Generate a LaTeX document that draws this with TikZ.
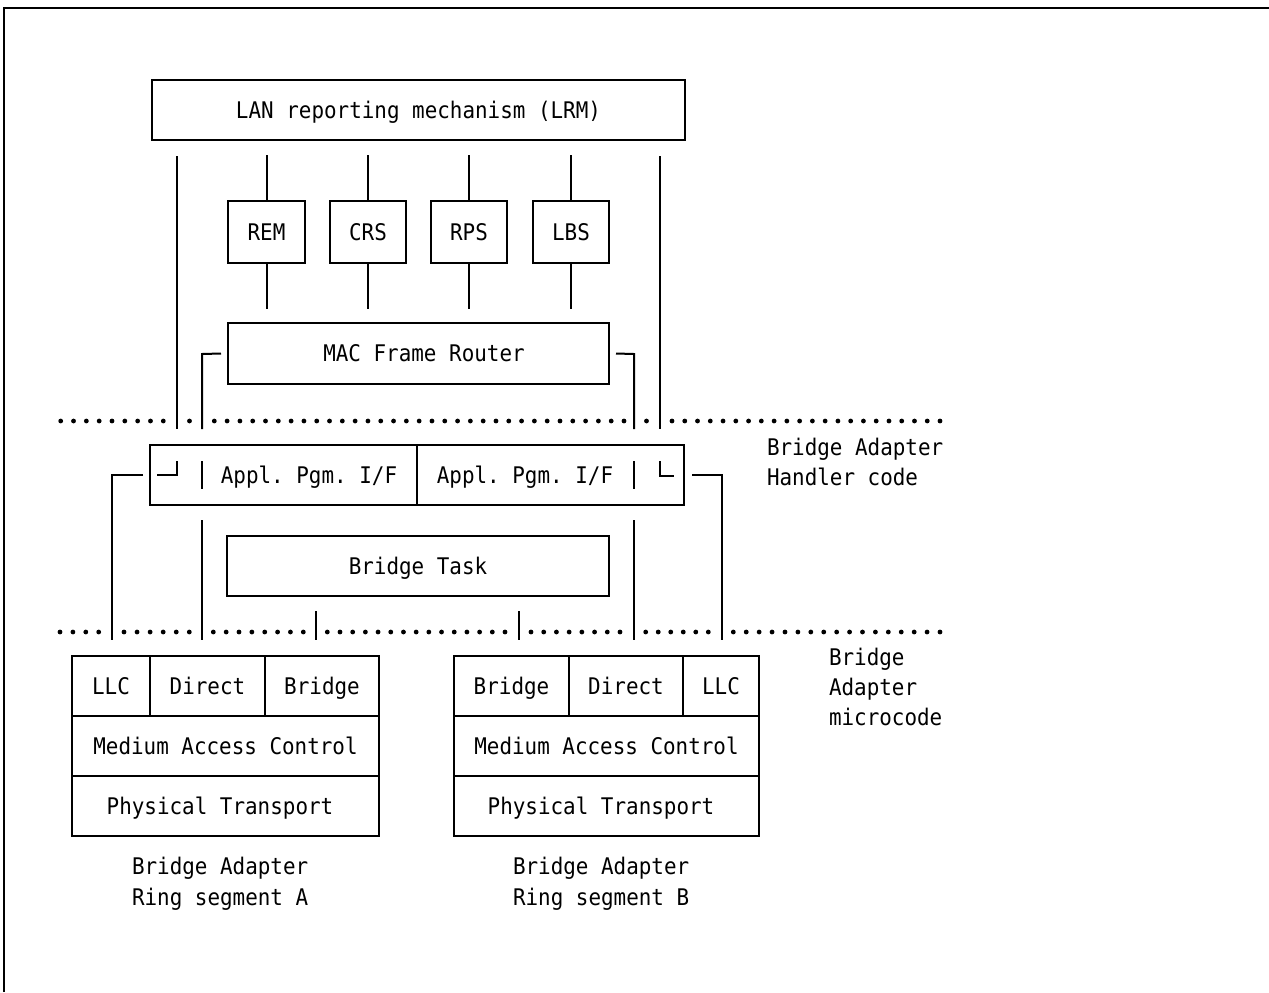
\documentclass[tikz,border=0pt]{standalone}
\usepackage{fontspec}
\newfontfamily\monofnt[FakeStretch=0.913]{DejaVu Sans Mono}
\newcommand{\bx}[6]{\node[box, minimum width={(#4-#2)*0.5pt}, minimum height={(#5-#3)*0.5pt}] (#1) at ({(#2+#4)/2},{(#3+#5)/2}) {#6};}
\newcommand{\dotseg}[4]{\foreach \k in {0,...,#4} {\fill ({#2+(#3-#2)*\k/#4},#1) circle[radius=1.2pt];}}
\frenchspacing
\begin{document}
\begin{tikzpicture}[x=0.5pt,y=-0.5pt, line width=1pt,
  txt/.style={inner sep=0pt, font=\monofnt\fontsize{11.45pt}{14pt}\selectfont\frenchspacing, text height=8.35pt, text depth=0pt},
  box/.style={draw, txt},
  lbl/.style={txt}]
\useasboundingbox (0,0) rectangle (1269,992);
% frame
\draw (4,992) -- (4,8) -- (1269,8);
% boxes
\bx{lrm}{152}{80}{685}{140}{LAN reporting mechanism (LRM)}
\bx{rem}{228}{201}{305}{263}{REM}
\bx{crs}{330}{201}{406}{263}{CRS}
\bx{rps}{431}{201}{507}{263}{RPS}
\bx{lbs}{533}{201}{609}{263}{LBS}
\bx{mfr}{228}{323}{609}{384}{\hspace*{5.5pt}MAC Frame Router}
\bx{apfl}{150}{445}{417}{505}{}
\bx{apfr}{417}{445}{684}{505}{}
\node[lbl] (apt1) at (309,475) {Appl. Pgm. I/F};
\node[lbl] (apt2) at (525,475) {Appl. Pgm. I/F};
\bx{btask}{227}{536}{609}{596}{Bridge Task}
% left adapter
\bx{llcA}{72}{656}{150}{716}{LLC}
\bx{dirA}{150}{656}{265}{716}{Direct}
\bx{brA}{265}{656}{379}{716}{Bridge}
\bx{macA}{72}{716}{379}{776}{Medium Access Control}
\bx{phyA}{72}{776}{379}{836}{Physical Transport\hspace*{5.5pt}}
% right adapter
\bx{brB}{454}{656}{569}{716}{Bridge}
\bx{dirB}{569}{656}{683}{716}{Direct}
\bx{llcB}{683}{656}{759}{716}{LLC}
\bx{macB}{454}{716}{759}{776}{Medium Access Control}
\bx{phyB}{454}{776}{759}{836}{Physical Transport\hspace*{5.5pt}}
% captions
\node[lbl, anchor=west] (capA1) at (131,866) {Bridge Adapter};
\node[lbl, anchor=west] (capA2) at (131,897) {Ring segment A};
\node[lbl, anchor=west] (capB1) at (512,866) {Bridge Adapter};
\node[lbl, anchor=west] (capB2) at (512,897) {Ring segment B};
\node[lbl, anchor=west] (hc1) at (766,447) {Bridge Adapter};
\node[lbl, anchor=west] (hc2) at (766,477) {Handler code};
\node[lbl, anchor=west] (mc1) at (828,657) {Bridge};
\node[lbl, anchor=west] (mc2) at (828,687) {Adapter};
\node[lbl, anchor=west] (mc3) at (828,717) {microcode};
% dotted rows
\dotseg{421}{60.7}{163.3}{8}
\fill (189.5,421) circle[radius=1.2pt];
\dotseg{421}{214.3}{624}{32}
\fill (646.5,421) circle[radius=1.2pt];
\dotseg{421}{672}{940}{21}
\dotseg{632}{60}{98.7}{3}
\dotseg{632}{124}{189.3}{5}
\dotseg{632}{213.3}{303.3}{7}
\dotseg{632}{327.3}{505}{14}
\dotseg{632}{531}{620}{7}
\dotseg{632}{645.7}{708.3}{5}
\dotseg{632}{733.3}{940}{16}
% connectors upper
\coordinate (l1t) at (177,156); \coordinate (l1b) at (177,429);
\coordinate (l2t) at (660,156); \coordinate (l2b) at (660,429);
\draw (l1t) -- (l1b);
\draw (l2t) -- (l2b);
\foreach \n in {rem,crs,rps,lbs} {
  \draw (\n.north) -- ++(0,-45);
  \draw (\n.south) -- ++(0,45);
}
\coordinate (bl1) at (202,354); \coordinate (bl2) at (202,429);
\coordinate (br1) at (634,354); \coordinate (br2) at (634,429);
\draw ([xshift=-3pt]mfr.west) -- (bl1) -- (bl2);
\draw ([xshift=3pt]mfr.east) -- (br1) -- (br2);
% glyph marks inside the API box
\draw (157,475) -- (177,475) -- (177,461);
\draw (202,461) -- (202,489);
\draw (634,461) -- (634,489);
\draw (660,461) -- (660,476) -- (674,476);
% connectors lower
\coordinate (ol1) at (112,475); \coordinate (ol2) at (112,640);
\coordinate (or1) at (722,475); \coordinate (or2) at (722,640);
\draw ([xshift=-3pt]apfl.west) -- (ol1) -- (ol2);
\draw ([xshift=3.5pt]apfr.east) -- (or1) -- (or2);
\coordinate (d1t) at (202,520); \coordinate (d1b) at (202,640);
\coordinate (d2t) at (634,520); \coordinate (d2b) at (634,640);
\draw (d1t) -- (d1b);
\draw (d2t) -- (d2b);
\coordinate (b1t) at (316,611); \coordinate (b1b) at (316,640);
\coordinate (b2t) at (519,611); \coordinate (b2b) at (519,640);
\draw (b1t) -- (b1b);
\draw (b2t) -- (b2b);
\end{tikzpicture}
\end{document}
